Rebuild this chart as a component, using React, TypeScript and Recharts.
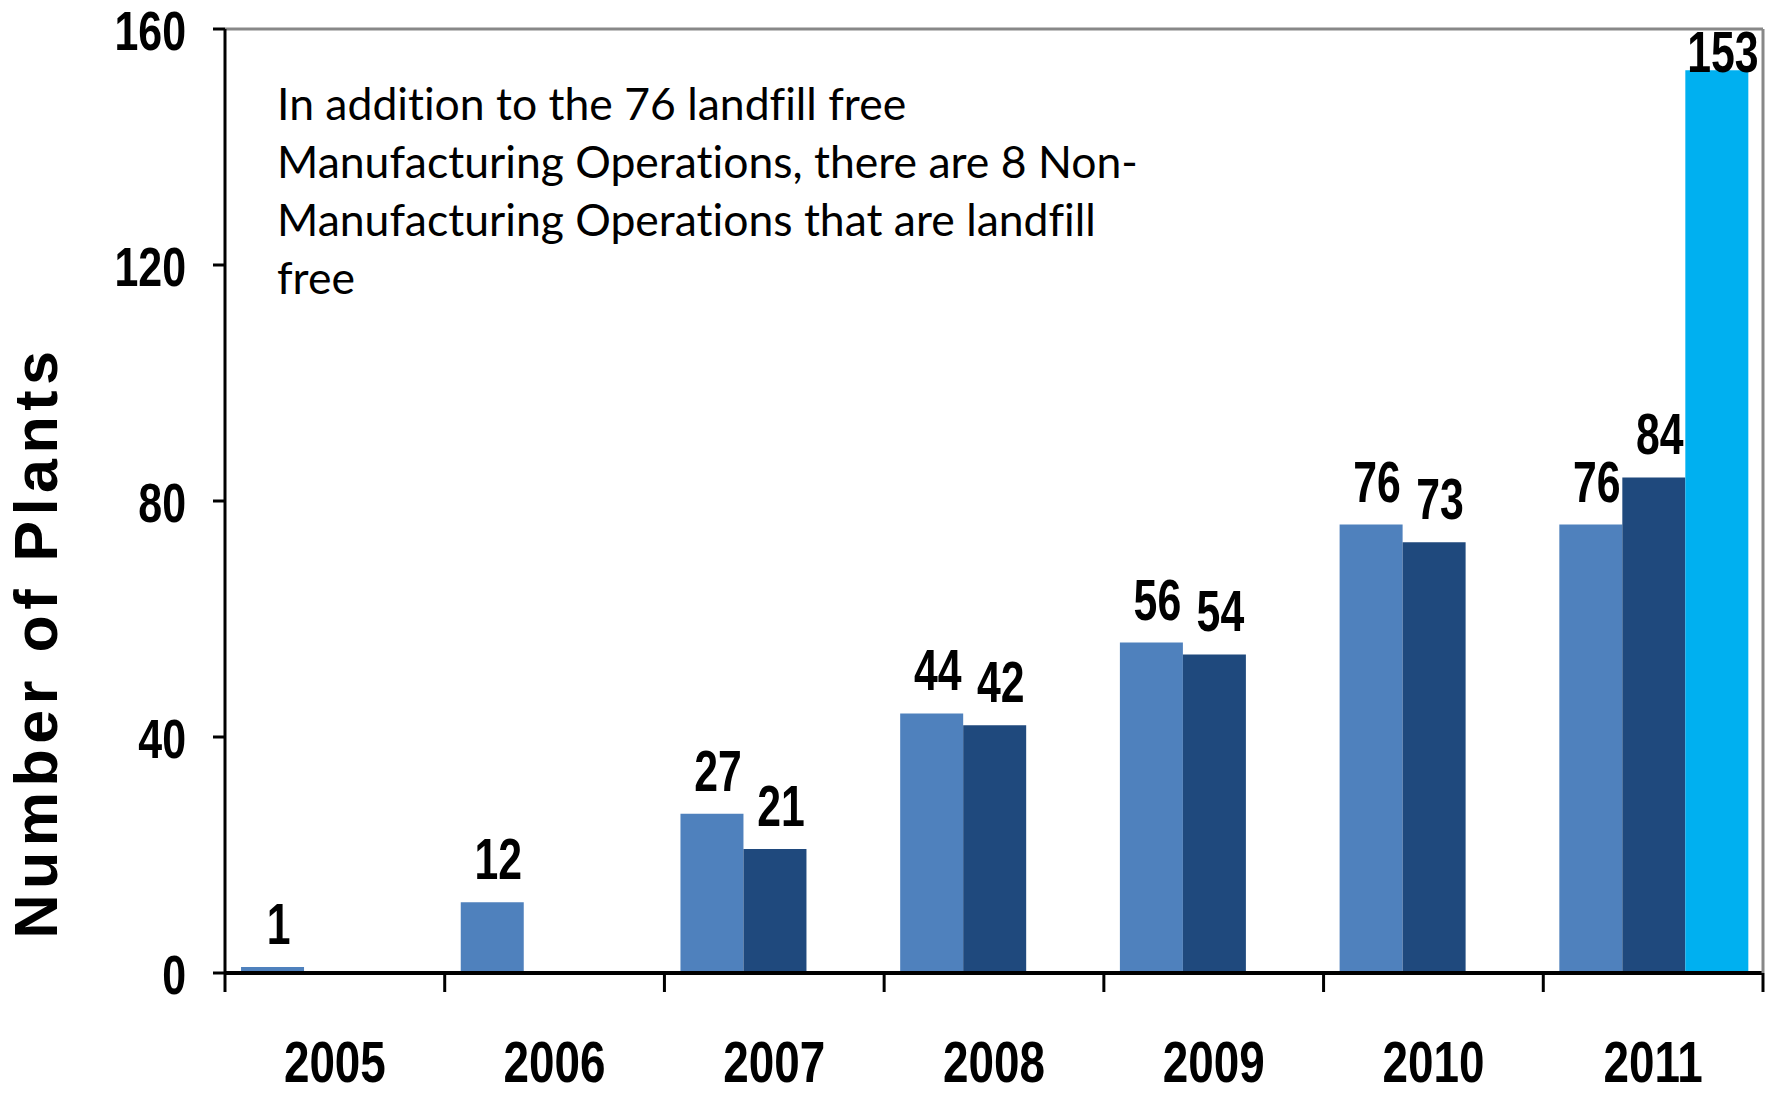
import React from 'react';
import { BarChart, Bar, XAxis, YAxis, ReferenceLine, LabelList, Label, Customized } from 'recharts';

const years = ['2005', '2006', '2007', '2008', '2009', '2010', '2011'];
const seriesA = [1, 12, 27, 44, 56, 76, 76];
const seriesB = [null, null, 21, 42, 54, 73, 84];
const seriesC = [null, null, null, null, null, null, 153];
const yTicks = [0, 40, 80, 120, 160];
const noteLines = [
  'In addition to the 76 landfill free',
  'Manufacturing Operations, there are 8 Non-',
  'Manufacturing Operations that are landfill',
  'free',
];

const data = years.map((year, i) => ({
  year,
  a: seriesA[i],
  b: seriesB[i],
  c: seriesC[i],
}));

const W = 1772;
const H = 1095;
const PLOT_LEFT = 225;
const PLOT_RIGHT = 1763;
const PLOT_TOP = 29;
const BAND = (PLOT_RIGHT - PLOT_LEFT) / years.length;
const SANS = "'Liberation Sans', Arial, sans-serif";

const Condensed = ({ x, y, anchor, size, sx, children }: any) => (
  <text
    transform={`translate(${x} ${y}) scale(${sx} 1)`}
    x={0}
    y={0}
    textAnchor={anchor}
    fontFamily={SANS}
    fontWeight="bold"
    fontSize={size}
    fill="#000"
  >
    {children}
  </text>
);

const XTick = (props: any) => {
  const { x, y, payload, index } = props;
  const left = x - BAND / 2;
  const right = x + BAND / 2;
  return (
    <g>
      <line x1={left} y1={y} x2={left} y2={y + 19} stroke="#000" strokeWidth={3} />
      {index === years.length - 1 && (
        <line x1={right} y1={y} x2={right} y2={y + 19} stroke="#000" strokeWidth={3} />
      )}
      <Condensed x={x} y={y + 109} anchor="middle" size={58} sx={0.79}>
        {payload.value}
      </Condensed>
    </g>
  );
};

const YTick = (props: any) => {
  const { x, y, payload } = props;
  return (
    <Condensed x={x} y={y + 21} anchor="end" size={55} sx={0.78}>
      {payload.value}
    </Condensed>
  );
};

const ValueLabel = (props: any) => {
  const { x, y, width, value } = props;
  if (value === null || value === undefined) return null;
  const baseline = Math.max(y - 23, PLOT_TOP + 43);
  return (
    <Condensed x={x + width / 2 + 6} y={baseline} anchor="middle" size={57} sx={0.75}>
      {value}
    </Condensed>
  );
};

const Note = () => (
  <text
    x={277}
    y={120}
    fontFamily="Lato, 'Open Sans', sans-serif"
    fontSize={44.5}
    fill="#000"
    style={{ fontVariantLigatures: 'none', fontFeatureSettings: "'liga' 0, 'dlig' 0" }}
  >
    {noteLines.map((line, i) => (
      <tspan key={i} x={277} y={120 + i * 58}>
        {line}
      </tspan>
    ))}
  </text>
);

export default function App() {
  return (
    <div style={{ position: 'absolute', left: 0, top: 0, width: W, height: H, background: '#fff' }}>
      <BarChart
        width={W}
        height={H}
        data={data}
        margin={{ top: PLOT_TOP, right: 0, bottom: 0, left: 0 }}
        barGap={0}
        barCategoryGap="7.3%"
      >
        <XAxis
          dataKey="year"
          height={H - 973}
          tickSize={0}
          tickMargin={0}
          tick={<XTick />}
          tickLine={false}
          axisLine={{ stroke: '#000', strokeWidth: 4 }}
          interval={0}
        />
        <YAxis
          yAxisId="left"
          width={PLOT_LEFT}
          domain={[0, 160]}
          ticks={yTicks}
          tickSize={12}
          tickMargin={27}
          tick={<YTick />}
          tickLine={{ stroke: '#000', strokeWidth: 3 }}
          axisLine={{ stroke: '#000', strokeWidth: 3 }}
        >
          <Label
            content={() => (
              <text
                x={57}
                y={642}
                transform="rotate(-90 57 642)"
                textAnchor="middle"
                fontFamily={SANS}
                fontWeight="bold"
                fontSize={61}
                letterSpacing={5.5}
                fill="#000"
              >
                Number of Plants
              </text>
            )}
          />
        </YAxis>
        <YAxis
          yAxisId="right"
          orientation="right"
          width={W - PLOT_RIGHT}
          domain={[0, 160]}
          tick={false}
          tickLine={false}
          axisLine={{ stroke: '#888', strokeWidth: 3 }}
        />
        <ReferenceLine yAxisId="left" y={160} stroke="#888" strokeWidth={3} />
        <Bar yAxisId="left" dataKey="a" name="Manufacturing plants (prior year)" fill="#4F81BD" isAnimationActive={false}>
          <LabelList dataKey="a" content={<ValueLabel />} />
        </Bar>
        <Bar yAxisId="left" dataKey="b" name="Manufacturing plants" fill="#1F497D" isAnimationActive={false}>
          <LabelList dataKey="b" content={<ValueLabel />} />
        </Bar>
        <Bar yAxisId="left" dataKey="c" name="All landfill-free facilities" fill="#00B0F0" isAnimationActive={false}>
          <LabelList dataKey="c" content={<ValueLabel />} />
        </Bar>
        <Customized component={<Note />} />
      </BarChart>
    </div>
  );
}
